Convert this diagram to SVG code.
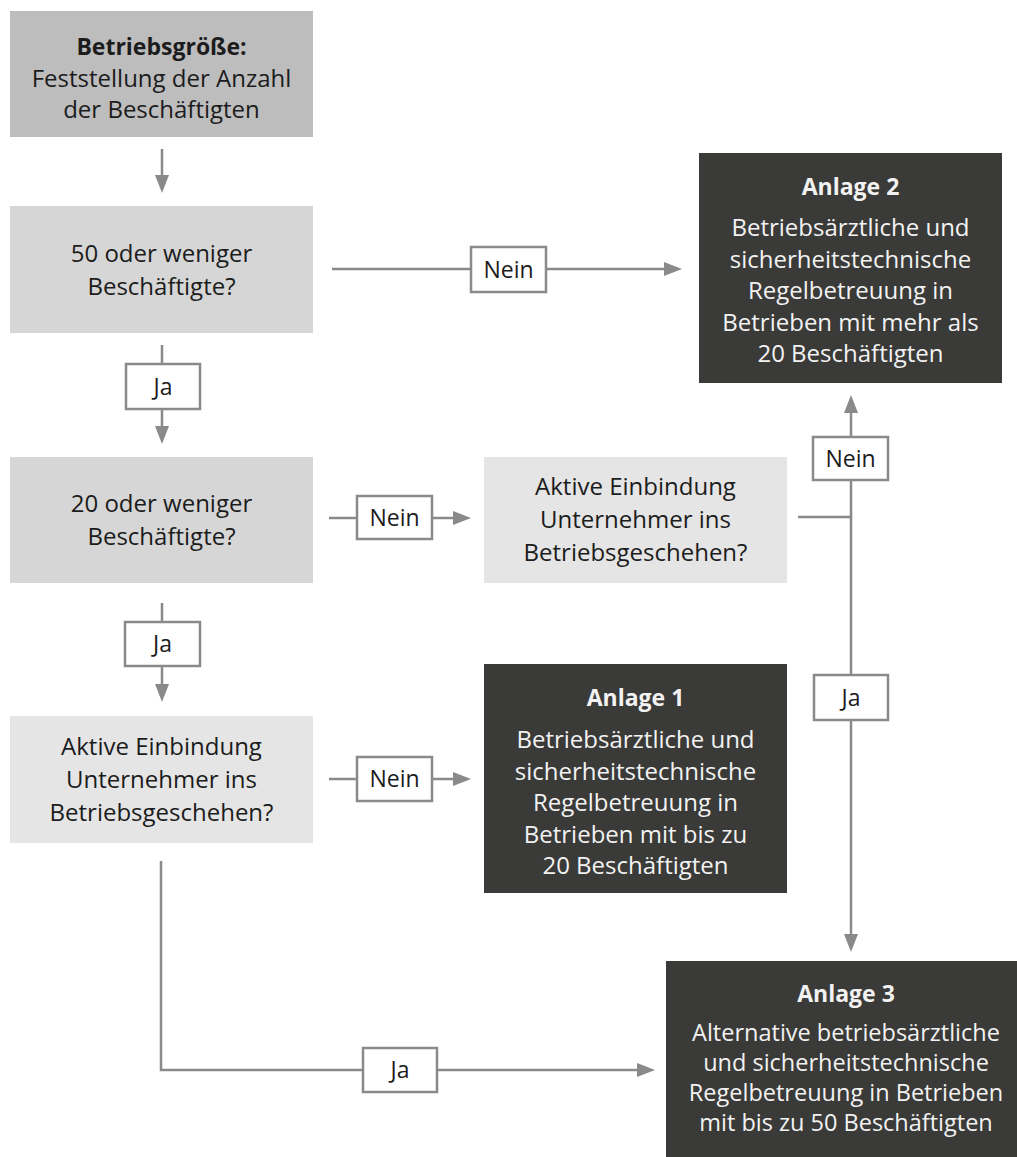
<svg xmlns="http://www.w3.org/2000/svg" width="1017" height="1157" viewBox="0 0 1017 1157">
<style>
  .t { font-family: "Open Sans", "Noto Sans", "Liberation Sans", sans-serif; font-size: 24px; text-anchor: middle; }
  .dk { fill: #1c1c1c; }
  .lt { fill: #f2f2f2; }
  .b { font-weight: 700; font-size: 23px; }
  .n1 { fill: #bdbdbe; }
  .n2 { fill: #d6d6d6; }
  .n3 { fill: #e5e5e5; }
  .nd { fill: #3a3a38; }
  .ln { stroke: #8a8a8a; stroke-width: 2.5; fill: none; }
  .lbl { fill: #ffffff; stroke: #8a8a8a; stroke-width: 2.5; }
  .lt2 { font-family: "Open Sans", "Noto Sans", "Liberation Sans", sans-serif; font-size: 23px; text-anchor: middle; fill: #1c1c1c; }
  .a3 { font-size: 23.5px; }
</style>
<defs>
  <marker id="ah" markerUnits="userSpaceOnUse" markerWidth="19" markerHeight="14" refX="0" refY="7" orient="auto" viewBox="0 0 19 14">
    <path d="M0,0 L18,7 L0,14 z" fill="#8a8a8a"/>
  </marker>
</defs>
<rect width="1017" height="1157" fill="#ffffff"/>

<g id="n-betriebsgroesse">
  <rect class="n1" x="10" y="11" width="303" height="126"/>
  <text class="t dk b" x="161.5" y="55">Betriebsgröße:</text>
  <text class="t dk" x="161.5" y="87">Feststellung der Anzahl</text>
  <text class="t dk" x="161.5" y="118">der Beschäftigten</text>
</g>

<g id="n-50">
  <rect class="n2" x="10" y="206" width="303" height="127"/>
  <text class="t dk" x="161.5" y="262">50 oder weniger</text>
  <text class="t dk" x="161.5" y="295">Beschäftigte?</text>
</g>

<g id="n-20">
  <rect class="n2" x="10" y="457" width="303" height="126"/>
  <text class="t dk" x="161.5" y="512">20 oder weniger</text>
  <text class="t dk" x="161.5" y="545">Beschäftigte?</text>
</g>

<g id="n-aktiv-links">
  <rect class="n3" x="10" y="716" width="303" height="127"/>
  <text class="t dk" x="161.5" y="755">Aktive Einbindung</text>
  <text class="t dk" x="161.5" y="788">Unternehmer ins</text>
  <text class="t dk" x="161.5" y="821">Betriebsgeschehen?</text>
</g>

<g id="n-aktiv-rechts">
  <rect class="n3" x="484" y="457" width="303" height="126"/>
  <text class="t dk" x="635.5" y="495">Aktive Einbindung</text>
  <text class="t dk" x="635.5" y="528">Unternehmer ins</text>
  <text class="t dk" x="635.5" y="561">Betriebsgeschehen?</text>
</g>

<g id="n-anlage2">
  <rect class="nd" x="699" y="153" width="303" height="230"/>
  <text class="t lt b" x="850.5" y="195">Anlage 2</text>
  <text class="t lt" x="850.5" y="236">Betriebsärztliche und</text>
  <text class="t lt" x="850.5" y="267.5">sicherheitstechnische</text>
  <text class="t lt" x="850.5" y="299">Regelbetreuung in</text>
  <text class="t lt" x="850.5" y="330.5">Betrieben mit mehr als</text>
  <text class="t lt" x="850.5" y="362">20 Beschäftigten</text>
</g>

<g id="n-anlage1">
  <rect class="nd" x="484" y="664" width="303" height="229"/>
  <text class="t lt b" x="635.5" y="706">Anlage 1</text>
  <text class="t lt" x="635.5" y="748">Betriebsärztliche und</text>
  <text class="t lt" x="635.5" y="779.5">sicherheitstechnische</text>
  <text class="t lt" x="635.5" y="811">Regelbetreuung in</text>
  <text class="t lt" x="635.5" y="842.5">Betrieben mit bis zu</text>
  <text class="t lt" x="635.5" y="874">20 Beschäftigten</text>
</g>

<g id="n-anlage3">
  <rect class="nd" x="666" y="961" width="351" height="196"/>
  <text class="t lt b" x="846" y="1002">Anlage 3</text>
  <text class="t lt a3" x="846" y="1041">Alternative betriebsärztliche</text>
  <text class="t lt a3" x="846" y="1071">und sicherheitstechnische</text>
  <text class="t lt a3" x="846" y="1101">Regelbetreuung in Betrieben</text>
  <text class="t lt a3" x="846" y="1131">mit bis zu 50 Beschäftigten</text>
</g>

<g id="connectors">
  <line class="ln" x1="162" y1="149" x2="162" y2="175" marker-end="url(#ah)"/>

  <line class="ln" x1="332" y1="269" x2="664" y2="269" marker-end="url(#ah)"/>
  <rect class="lbl" x="471" y="247" width="75" height="45"/>
  <text class="lt2" x="508.5" y="278">Nein</text>

  <line class="ln" x1="162" y1="345" x2="162" y2="426" marker-end="url(#ah)"/>
  <rect class="lbl" x="126" y="364" width="74" height="45"/>
  <text class="lt2" x="163" y="395">Ja</text>

  <line class="ln" x1="329" y1="518" x2="453" y2="518" marker-end="url(#ah)"/>
  <rect class="lbl" x="357" y="496" width="75" height="43"/>
  <text class="lt2" x="394.5" y="526">Nein</text>

  <line class="ln" x1="162" y1="603" x2="162" y2="684" marker-end="url(#ah)"/>
  <rect class="lbl" x="125" y="622" width="75" height="44"/>
  <text class="lt2" x="162.5" y="652">Ja</text>

  <line class="ln" x1="329" y1="779" x2="453" y2="779" marker-end="url(#ah)"/>
  <rect class="lbl" x="357" y="757" width="75" height="44"/>
  <text class="lt2" x="394.5" y="787">Nein</text>

  <path class="ln" d="M161,861 V1070 H637" marker-end="url(#ah)"/>
  <rect class="lbl" x="363" y="1048" width="74" height="44"/>
  <text class="lt2" x="400" y="1078">Ja</text>

  <line class="ln" x1="798" y1="517" x2="851" y2="517"/>
  <line class="ln" x1="851" y1="518" x2="851" y2="413" marker-end="url(#ah)"/>
  <line class="ln" x1="851" y1="516" x2="851" y2="934" marker-end="url(#ah)"/>
  <rect class="lbl" x="813" y="437" width="75" height="43"/>
  <text class="lt2" x="850.5" y="467">Nein</text>
  <rect class="lbl" x="814" y="675" width="74" height="45"/>
  <text class="lt2" x="851" y="706">Ja</text>
</g>
</svg>
